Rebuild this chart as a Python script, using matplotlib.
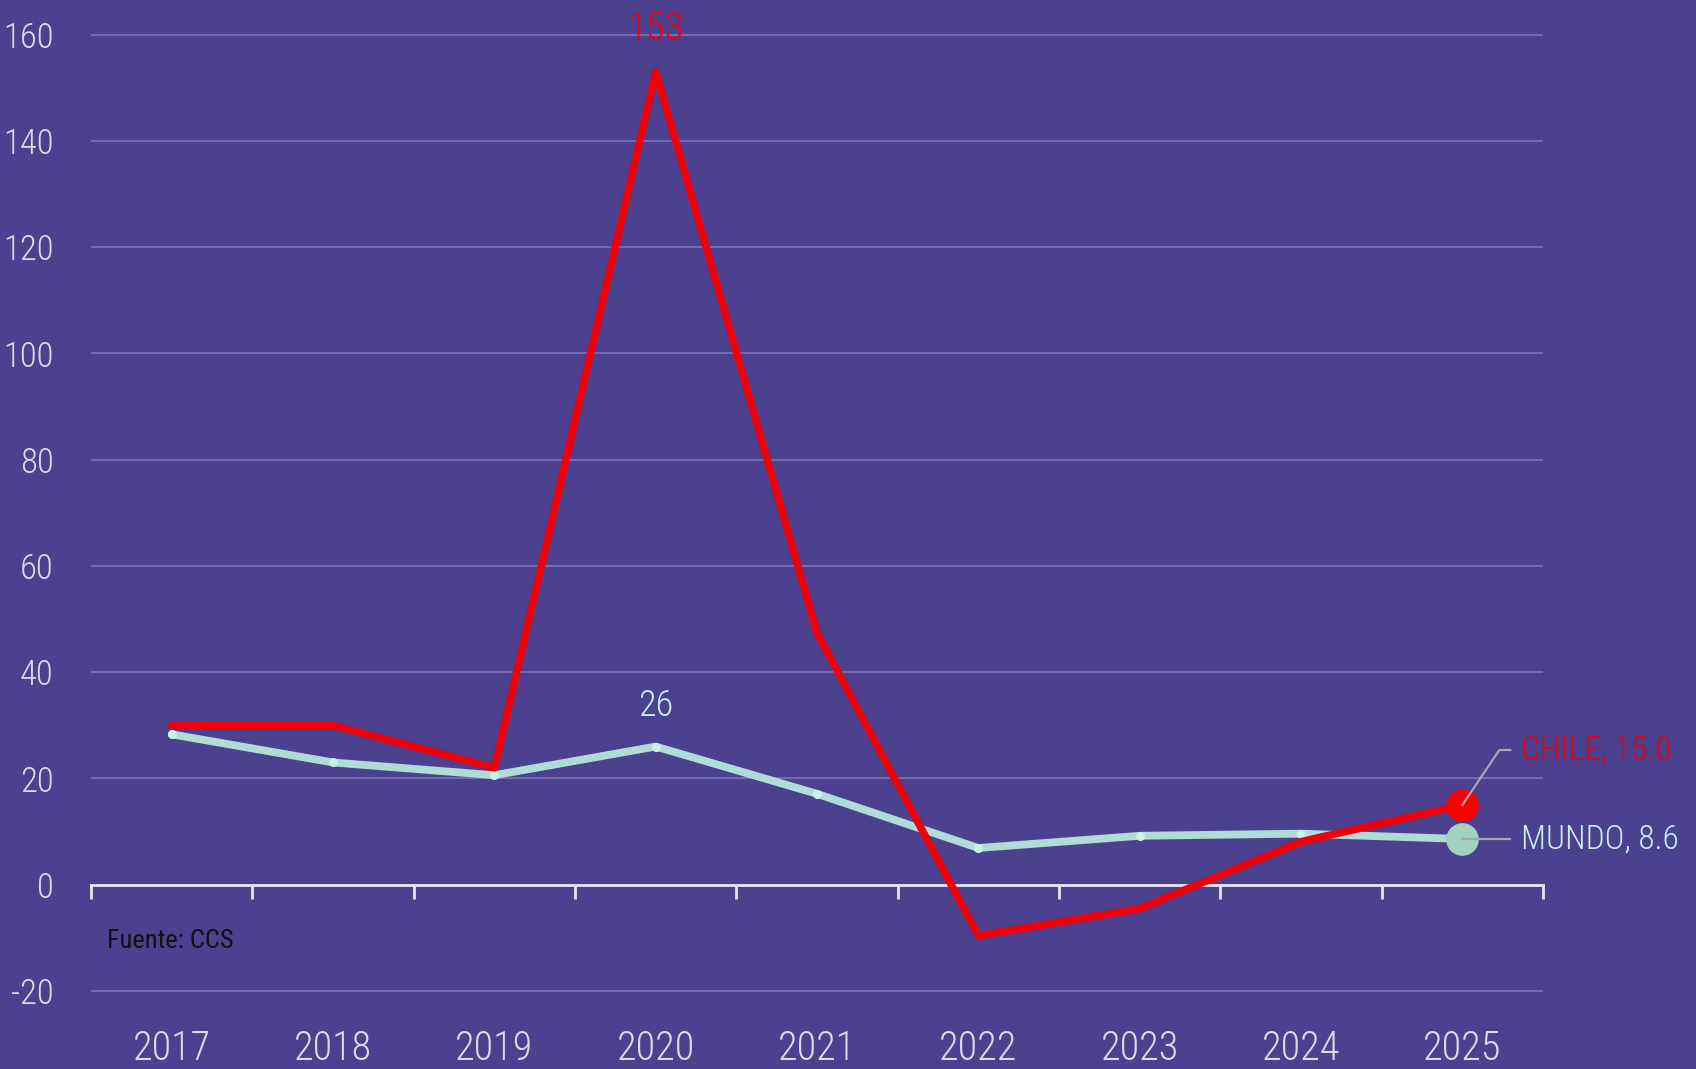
import matplotlib
matplotlib.use("Agg")
import matplotlib.pyplot as plt
import numpy as np

years = ["2017", "2018", "2019", "2020", "2021", "2022", "2023", "2024", "2025"]
chile = [30.0, 30.0, 22.0, 153.0, 47.4, -9.6, -4.5, 8.1, 15.0]
mundo = [28.3, 23.0, 20.6, 26.0, 17.1, 6.9, 9.2, 9.6, 8.6]
yticks = [-20, 0, 20, 40, 60, 80, 100, 120, 140, 160]

BG = "#4B418E"
RED = "#F00008"
RED_DOT = "#FF0000"
MUNDO = "#B0DCD8"
MUNDO_DOT = "#A2D2C0"
GRID = "#7569AF"
TXT = "#DCDCE4"

plt.rcParams['font.family'] = ['Roboto Condensed', 'Liberation Sans Narrow', 'DejaVu Sans Condensed', 'DejaVu Sans']
plt.rcParams['axes.unicode_minus'] = False

fig = plt.figure(figsize=(16.96, 10.69), dpi=100, facecolor=BG)
ax = fig.add_axes([0.0537, 0.0482, 0.8561, 0.9442])
ax.set_facecolor(BG)

x = np.arange(len(years))
ax.set_xlim(-0.5, len(years) - 0.5)
ax.set_ylim(-25, 165)

# gridlines
for v in yticks:
    if v != 0:
        ax.axhline(v, color=GRID, lw=1.5, zorder=1)

for s in ['left', 'right', 'bottom']:
    ax.spines[s].set_visible(False)
ax.spines['top'].set_position(('data', 0))
ax.spines['top'].set_color("#E6E6EC")
ax.spines['top'].set_linewidth(2)
ax.spines['top'].set_zorder(2)

ax.set_xticks(x)
ax.set_xticklabels(years)
ax.set_xticks(np.arange(len(years) + 1) - 0.5, minor=True)
ax.tick_params(axis='x', which='major', bottom=True, top=False, length=0,
               labelbottom=True, labeltop=False, labelsize=29, labelcolor=TXT, pad=9)
ax.tick_params(axis='x', which='minor', bottom=False, top=True, direction='in',
               length=10, width=2, color="#E6E6EC")
ax.set_yticks(yticks)
ax.tick_params(axis='y', length=0, labelsize=25, labelcolor=TXT, pad=27)
for lab in ax.get_xticklabels() + ax.get_yticklabels():
    lab.set_fontweight('light')

# lines
ax.plot(x, mundo, color=MUNDO, lw=5.6, solid_capstyle='round', solid_joinstyle='round',
        zorder=3)
ax.plot(x[:-1], mundo[:-1], 'o', color="#C8F2E4", ms=5.5, zorder=3.5)
ax.plot(x, chile, color=RED, lw=5.4, solid_capstyle='round', solid_joinstyle='round',
        zorder=4)

# end dots
ax.plot(x[-1], mundo[-1], 'o', color=MUNDO_DOT, ms=22.5, zorder=4.5)
ax.plot(x[-1], chile[-1], 'o', color=RED_DOT, ms=22.5, zorder=5)

# peak labels
i20 = years.index("2020")
ax.annotate(f"{chile[i20]:.0f}", (x[i20], chile[i20]), xytext=(0, 31), textcoords='offset points',
            ha='center', va='center', color=RED, fontsize=28, fontweight='light', annotation_clip=False)
ax.annotate(f"{mundo[i20]:.0f}", (x[i20], mundo[i20]), xytext=(0, 29), textcoords='offset points',
            ha='center', va='center', color="#C8F0F0", fontsize=26, fontweight='light', annotation_clip=False)

# end labels with leader lines
trans = ax.transData
px, py = trans.transform((x[-1], chile[-1]))
inv = ax.transData.inverted()
p1 = inv.transform((px + 37, py + 55))
p2 = inv.transform((px + 48, py + 55))
ax.plot([x[-1], p1[0], p2[0]], [chile[-1], p1[1], p2[1]], color="#A8A8A8", lw=1.6,
        zorder=6, clip_on=False)
ax.annotate(f"CHILE, {chile[-1]:.1f}", (p2[0], p2[1]), xytext=(8, 0), textcoords='offset points',
            ha='left', va='center', color="#E8000F", fontsize=24, fontweight='light',
            annotation_clip=False)

mx, my = trans.transform((x[-1], mundo[-1]))
q2 = inv.transform((mx + 48, my))
ax.plot([x[-1], q2[0]], [mundo[-1], q2[1]], color="#A8A8A8", lw=1.6, zorder=4.7, clip_on=False)
ax.annotate(f"MUNDO, {mundo[-1]:.1f}", (q2[0], q2[1]), xytext=(8, 0), textcoords='offset points',
            ha='left', va='center', color="#C8F0F0", fontsize=24, fontweight='light',
            annotation_clip=False)

fig.text(0.063, 0.12, "Fuente: CCS", color="#111111", fontsize=19, ha='left', va='center')

fig.savefig("out.png", dpi=100, facecolor=BG)
